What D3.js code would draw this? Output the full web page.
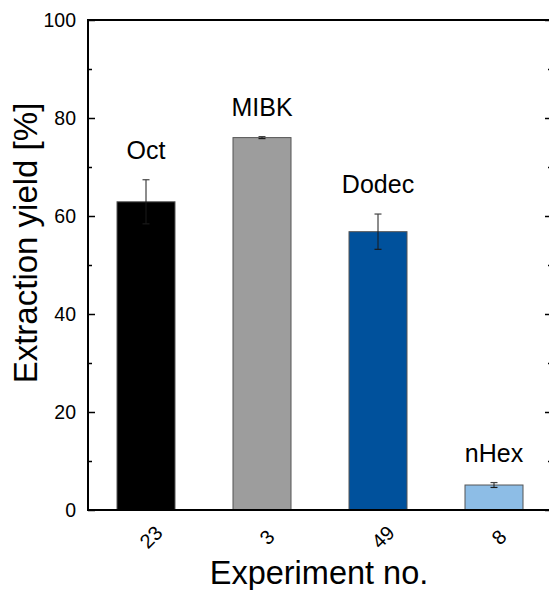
<!DOCTYPE html>
<html>
<head>
<meta charset="utf-8">
<script src="https://cdn.jsdelivr.net/npm/d3@7"></script>
<style>
  html, body { margin: 0; padding: 0; background: #fff; }
  svg { display: block; font-family: "Liberation Sans", Arial, sans-serif; }
</style>
</head>
<body>
<svg id="chart" width="549" height="590"></svg>
<script>
// Extraction yield per experiment, with the solvent used in each run
const experiments = ["23", "3", "49", "8"];
const solvents = ["Oct", "MIBK", "Dodec", "nHex"];
const yields = [62.9, 76.0, 56.8, 5.1];
const errors = [4.5, 0.2, 3.6, 0.5];
const barColors = ["#000000", "#9d9d9d", "#00519c", "#8dbde6"];
const yTicks = [0, 20, 40, 60, 80, 100];
const yMinorTicks = [10, 30, 50, 70, 90];

const svg = d3.select("#chart");
const margin = { left: 88, top: 20 };
const plotW = 464, plotH = 490;
const g = svg.append("g").attr("transform", `translate(${margin.left},${margin.top})`);

const x = d3.scaleBand().domain(experiments).range([0, plotW]).paddingInner(0.5).paddingOuter(0.25);
const y = d3.scaleLinear().domain([0, 100]).range([plotH, 0]);

const rows = experiments.map((e, i) => ({ e, s: solvents[i], v: yields[i], err: errors[i], c: barColors[i] }));

// bars
g.selectAll("rect.bar").data(rows).join("rect")
  .attr("class", "bar")
  .attr("x", d => x(d.e))
  .attr("width", x.bandwidth())
  .attr("y", d => y(d.v))
  .attr("height", d => y(0) - y(d.v))
  .attr("fill", d => d.c)
  .attr("stroke", "#555")
  .attr("stroke-width", 1);

// error bars
const eb = g.selectAll("g.err").data(rows).join("g").attr("class", "err")
  .attr("transform", d => `translate(${x(d.e) + x.bandwidth() / 2},0)`);
eb.append("line")
  .attr("y1", d => y(d.v + d.err)).attr("y2", d => y(d.v - d.err))
  .attr("stroke", "#1a1a1a").attr("stroke-width", 1);
eb.append("line")
  .attr("x1", -3.5).attr("x2", 3.5)
  .attr("y1", d => y(d.v + d.err)).attr("y2", d => y(d.v + d.err))
  .attr("stroke", "#444").attr("stroke-width", 1.2);
eb.append("line")
  .attr("x1", -3.5).attr("x2", 3.5)
  .attr("y1", d => y(d.v - d.err)).attr("y2", d => y(d.v - d.err))
  .attr("stroke", "#1a1a1a").attr("stroke-width", 1.2);

// solvent labels above each bar
g.selectAll("text.solvent").data(rows).join("text")
  .attr("class", "solvent")
  .attr("x", d => x(d.e) + x.bandwidth() / 2)
  .attr("y", d => y(d.v + d.err) - 21)
  .attr("text-anchor", "middle")
  .attr("font-size", 25)
  .attr("fill", "#000")
  .text(d => d.s);

// left axis: labelled major ticks, minor ticks, all pointing inward
const yAxis = d3.axisLeft(y).tickValues(yTicks).tickSize(-7).tickPadding(12).tickFormat(d3.format("d"));
const yl = g.append("g").call(yAxis);
yl.selectAll("text").attr("font-size", 19.5).attr("fill", "#000");
yl.select(".domain").remove();
g.append("g").call(d3.axisLeft(y).tickValues(yMinorTicks).tickSize(-4).tickFormat(""))
  .select(".domain").remove();

// right axis: ticks only
g.append("g").attr("transform", `translate(${plotW},0)`)
  .call(d3.axisRight(y).tickValues(yTicks).tickSize(-7).tickFormat(""))
  .select(".domain").remove();
g.append("g").attr("transform", `translate(${plotW},0)`)
  .call(d3.axisRight(y).tickValues(yMinorTicks).tickSize(-4).tickFormat(""))
  .select(".domain").remove();
g.selectAll(".tick line").attr("stroke", "#000").attr("stroke-width", 1.5);

// frame
g.append("rect").attr("x", 0).attr("y", 0).attr("width", plotW).attr("height", plotH)
  .attr("fill", "none").attr("stroke", "#000").attr("stroke-width", 2);

// bottom category labels, rotated
const xl = g.append("g").attr("transform", `translate(0,${plotH})`)
  .call(d3.axisBottom(x).tickSize(0).tickFormat(d => d));
xl.select(".domain").remove();
xl.selectAll("text")
  .attr("font-size", 20).attr("fill", "#000")
  .attr("text-anchor", "middle")
  .attr("dy", null).attr("y", 0)
  .attr("dominant-baseline", "central")
  .attr("transform", "translate(5,27) rotate(-45)");

// axis titles
svg.append("text")
  .attr("x", margin.left + plotW / 2 - 1).attr("y", 584)
  .attr("text-anchor", "middle").attr("font-size", 32.5).attr("fill", "#000")
  .text("Experiment no.");
svg.append("text")
  .attr("transform", "translate(37,243) rotate(-90)")
  .attr("text-anchor", "middle").attr("font-size", 33).attr("fill", "#000")
  .text("Extraction yield [%]");
</script>
</body>
</html>
